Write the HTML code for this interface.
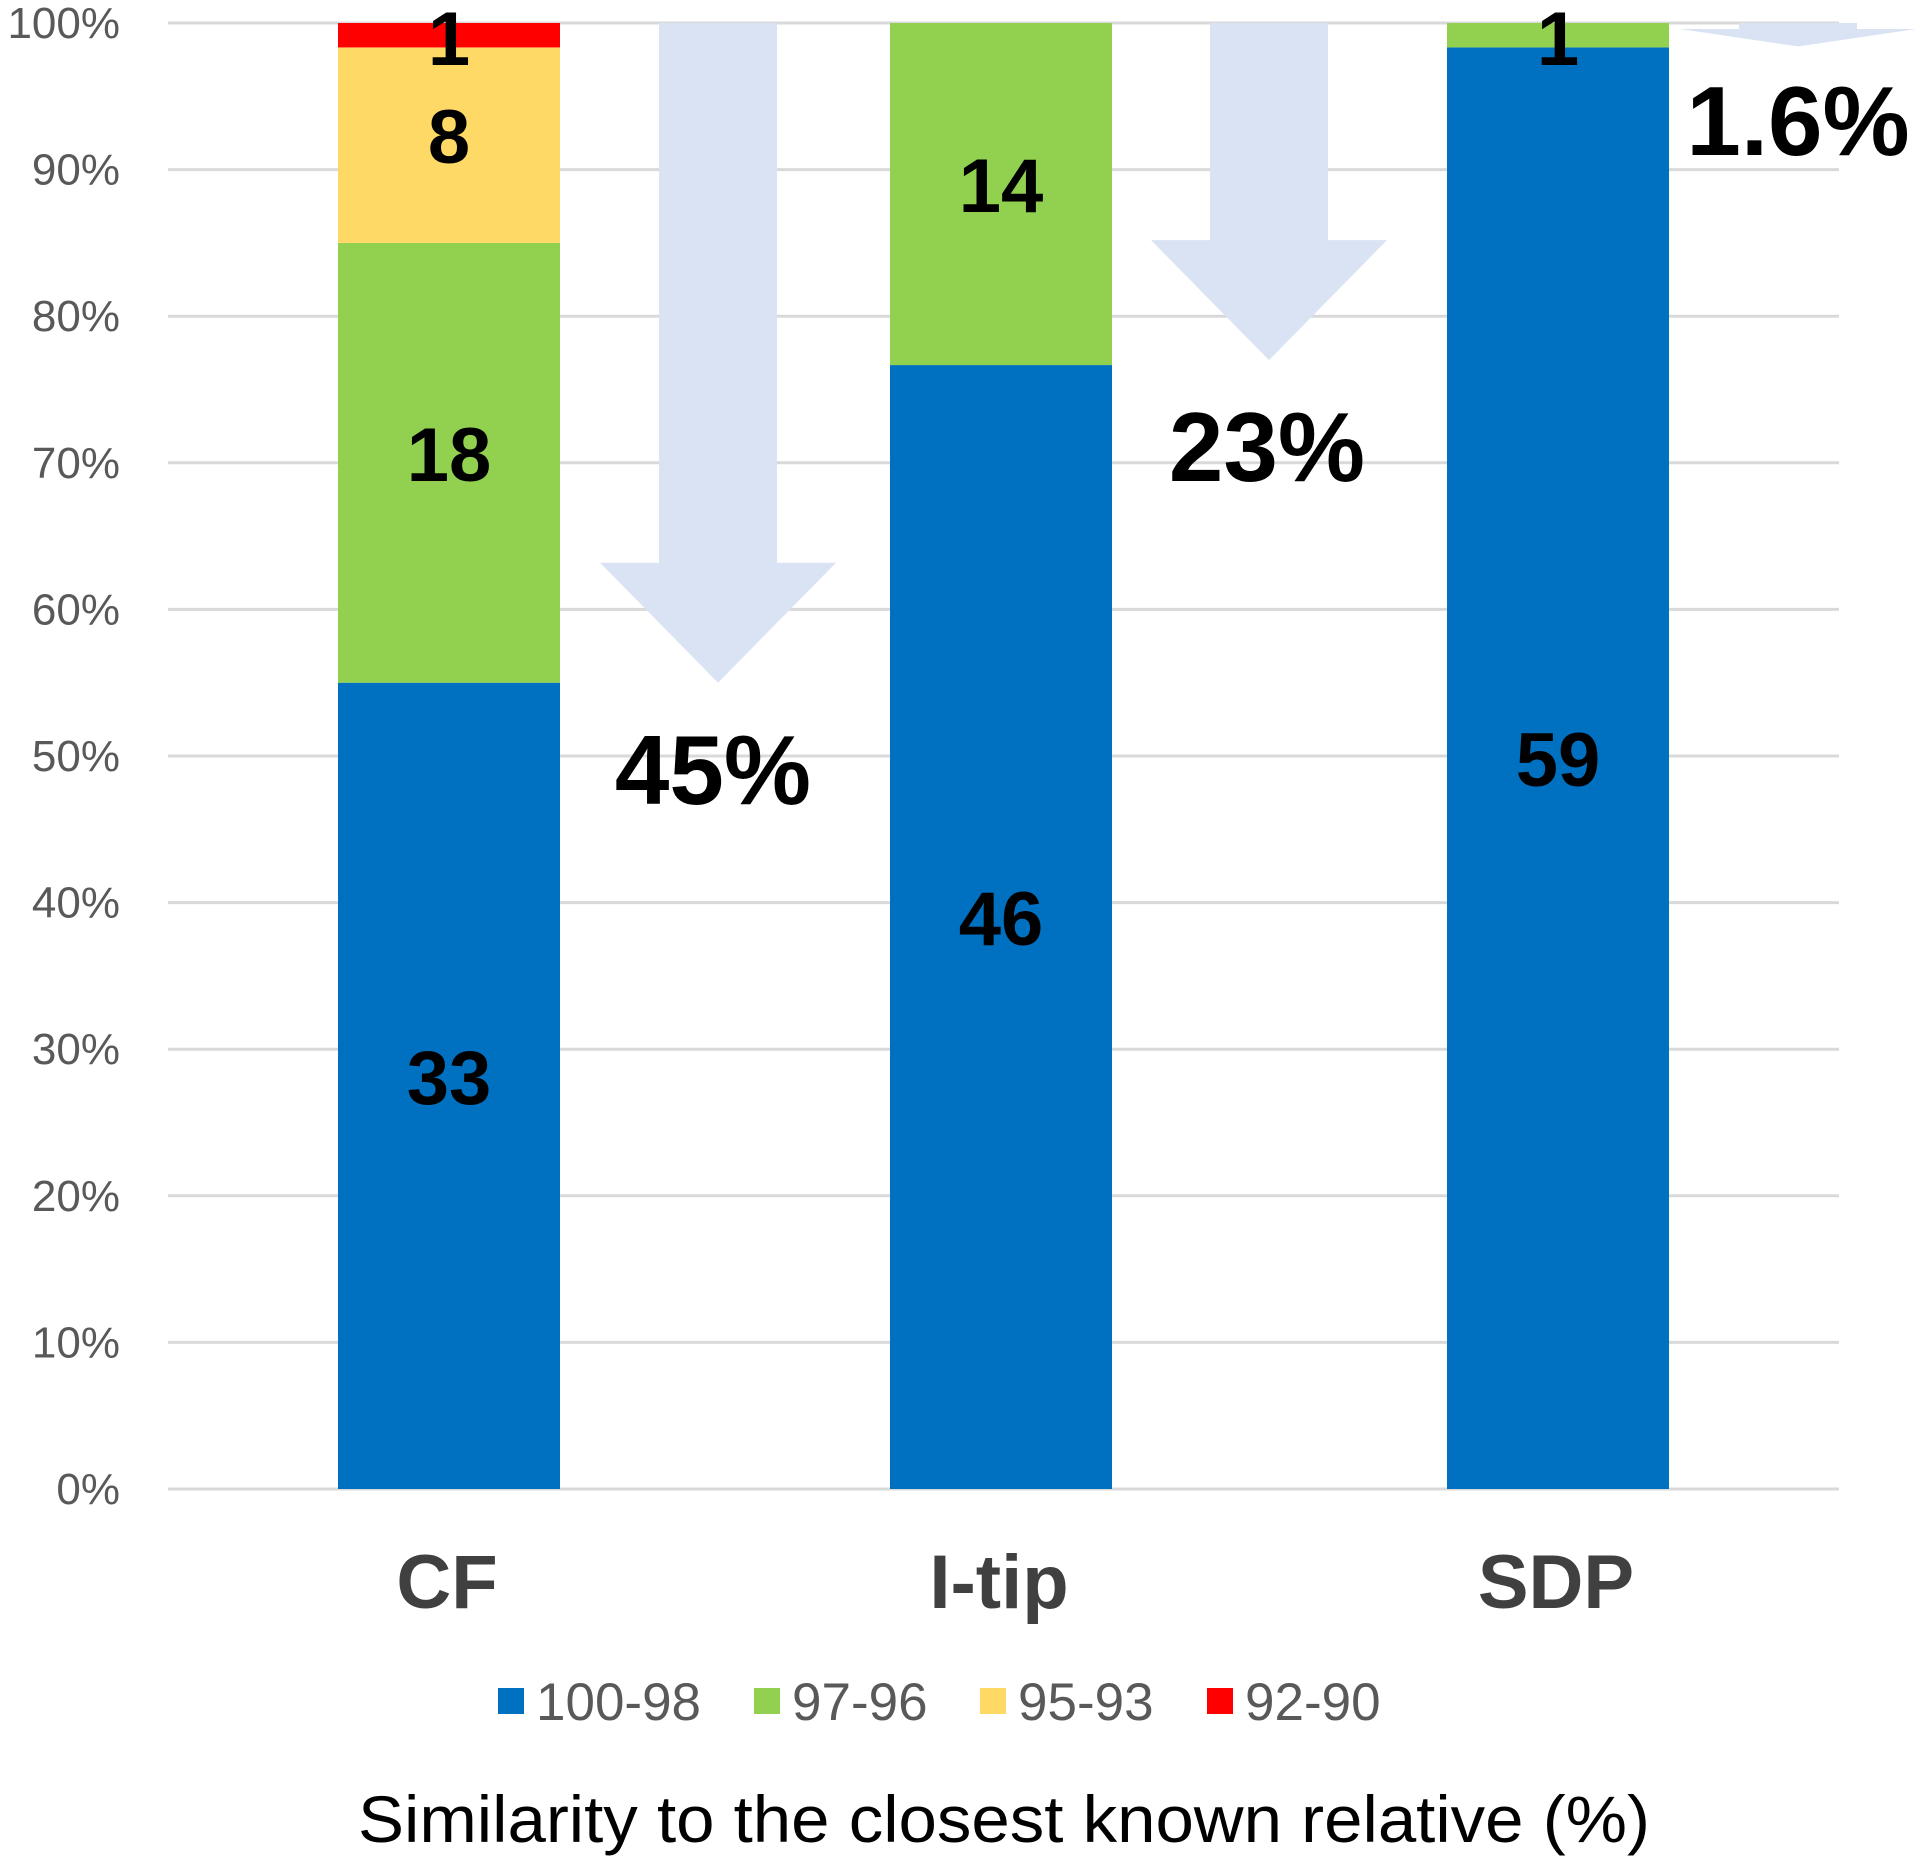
<!DOCTYPE html>
<html><head><meta charset="utf-8"><style>html,body{margin:0;padding:0;background:#fff}svg{display:block}</style></head>
<body>
<svg id="chart" width="1919" height="1860" xmlns="http://www.w3.org/2000/svg" font-family="Liberation Sans, Arial, sans-serif"></svg>
<script>
const categories = ['CF', 'I-tip', 'SDP'];
const seriesNames = ['100-98', '97-96', '95-93', '92-90'];
const series100_98 = [33, 46, 59];
const series97_96 = [18, 14, 1];
const series95_93 = [8, 0, 0];
const series92_90 = [1, 0, 0];
const reductionLabels = ['45%', '23%', '1.6%'];
const reductionValues = [45, 23, 1.6];
const yTicks = [0, 10, 20, 30, 40, 50, 60, 70, 80, 90, 100];

const colors = ['#0070c0', '#92d050', '#ffd966', '#ff0000'];
const NS = 'http://www.w3.org/2000/svg';
const svg = document.getElementById('chart');
const x0 = 168, x1 = 1839, yTop = 23, yBot = 1489;
const barCenters = [449, 1001, 1558];
const barW = 222;
const yScale = p => yBot - (p / 100) * (yBot - yTop);
const xScale = i => barCenters[i];
function mk(tag, attrs, parent) {
  const e = document.createElementNS(NS, tag);
  for (const k in attrs) e.setAttribute(k, attrs[k]);
  (parent || svg).appendChild(e);
  return e;
}
yTicks.forEach(t => {
  const g = mk('line', {x1: x0, x2: x1, y1: yScale(t), y2: yScale(t), stroke: '#d9d9d9', 'stroke-width': 3});
  
  
  const tx = mk('text', {x: 120, y: yScale(t) + 15, 'text-anchor': 'end', 'font-size': 44, fill: '#595959'});
  tx.textContent = t + '%';
  
  
});
const arrowCenters = [718, 1269, 1798];
reductionValues.forEach((v, i) => {
  const cx = arrowCenters[i];
  const tipY = yScale(100 - v);
  const headLen = Math.min(120, tipY - yTop - 6);
  const headY = tipY - headLen;
  const sh = 59, hw = 118;
  const p = mk('polygon', {points: [[cx - sh, yTop], [cx + sh, yTop], [cx + sh, headY], [cx + hw, headY], [cx, tipY], [cx - hw, headY], [cx - sh, headY]].map(a => a.join(',')).join(' '), fill: '#dae3f3'});
  
  
});
const all = [series100_98, series97_96, series95_93, series92_90];
categories.forEach((c, i) => {
  const total = all.reduce((s, a) => s + a[i], 0);
  let cum = 0;
  all.forEach((arr, si) => {
    const v = arr[i];
    if (!v) return;
    const pb = cum / total * 100, pt = (cum + v) / total * 100;
    cum += v;
    const r = mk('rect', {x: xScale(i) - barW / 2, y: yScale(pt), width: barW, height: yScale(pb) - yScale(pt), fill: colors[si]});
    
    
    const ym = (yScale(pt) + yScale(pb)) / 2;
    const t = mk('text', {x: xScale(i), y: Math.max(ym + 18, 65), 'text-anchor': 'middle', 'font-size': 76, 'font-weight': 'bold', fill: '#000'});
    t.textContent = v;
    
    
  });
  const cl = mk('text', {x: xScale(i) - 2, y: 1608, 'text-anchor': 'middle', 'font-size': 76, 'font-weight': 'bold', fill: '#404040'});
  cl.textContent = c;
  
  
});
const redPos = [[713, 804], [1267, 481], [1798, 155]];
reductionLabels.forEach((l, i) => {
  const t = mk('text', {x: redPos[i][0], y: redPos[i][1], 'text-anchor': 'middle', 'font-size': 98, 'font-weight': 'bold', fill: '#000'});
  t.textContent = l;
  
  
});
const legX = [498, 754, 980, 1207];
seriesNames.forEach((n, i) => {
  const r = mk('rect', {x: legX[i], y: 1688, width: 26, height: 26, fill: colors[i]});
  
  
  const t = mk('text', {x: legX[i] + 38, y: 1720, 'font-size': 53, fill: '#595959'});
  t.textContent = n;
  
  
});
const at = mk('text', {x: 358, y: 1842, 'font-size': 66, fill: '#000', textLength: 1292, lengthAdjust: 'spacingAndGlyphs'});
at.textContent = 'Similarity to the closest known relative (%)';


</script>
</body></html>
